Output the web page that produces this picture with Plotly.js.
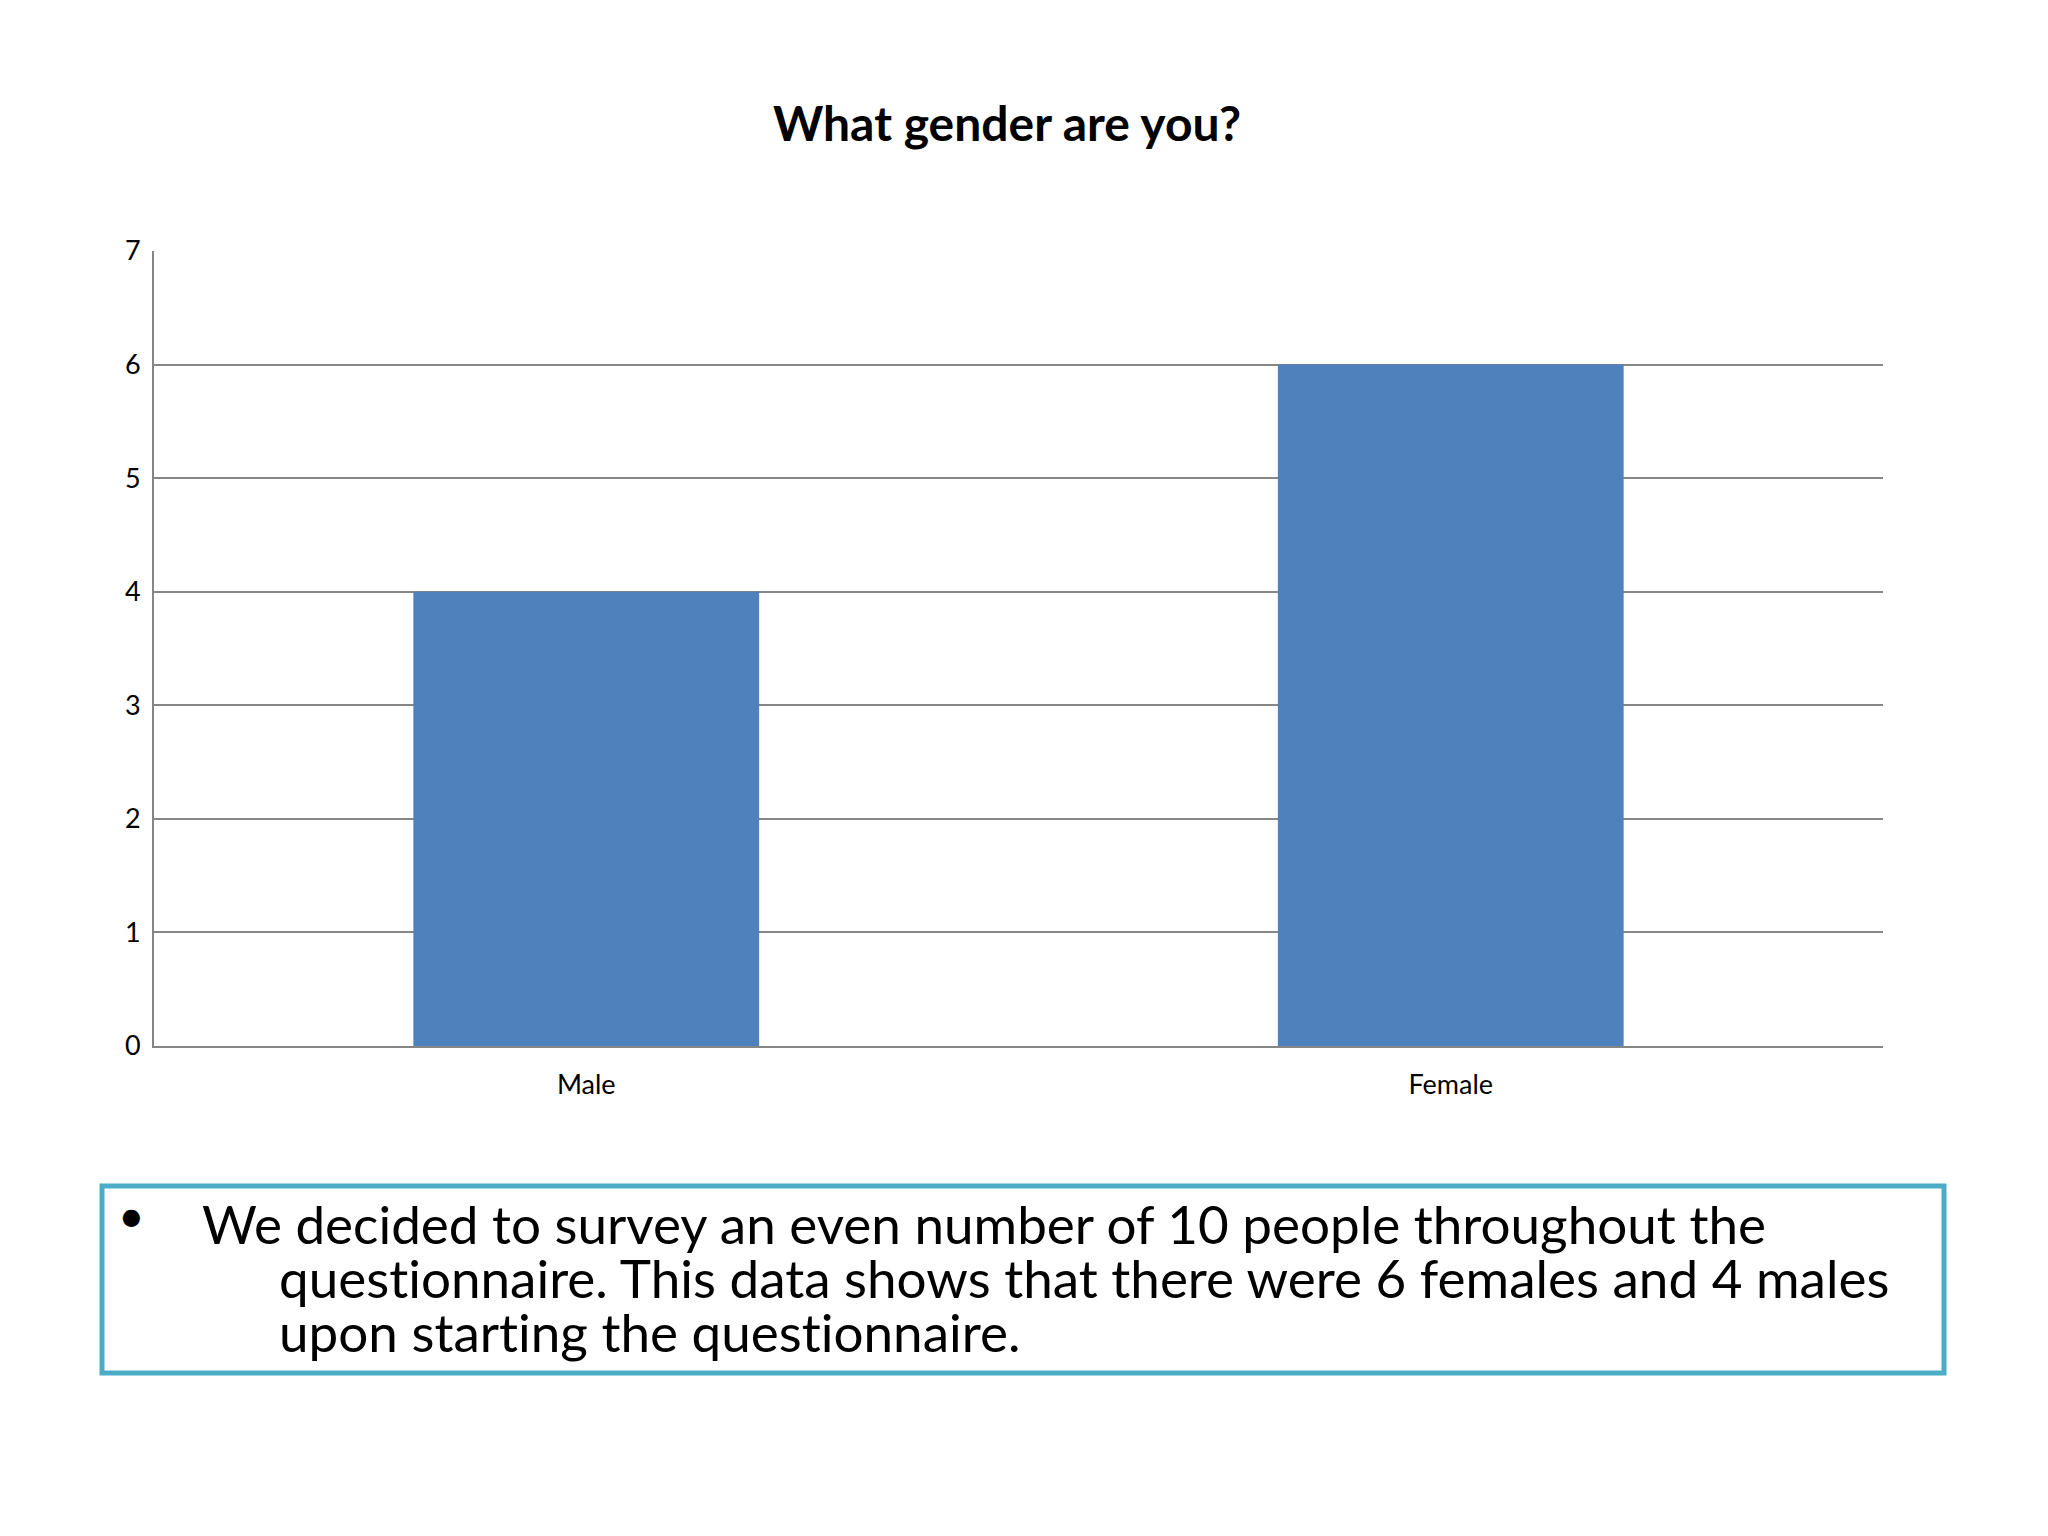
<!DOCTYPE html>
<html>
<head>
<meta charset="utf-8">
<script src="https://cdn.plot.ly/plotly-3.0.1.min.js"></script>
<style>
html,body{margin:0;padding:0;background:#fff;}
#chart{width:2048px;height:1536px;}
text{font-variant-ligatures:none;font-feature-settings:"liga" 0;}
</style>
</head>
<body>
<div id="chart"></div>
<script>
const categories = ["Male", "Female"];
const counts = [4, 6];
const yTicks = [0, 1, 2, 3, 4, 5, 6, 7];
const chartTitle = "What gender are you?";
const noteLines = [
  "We decided to survey an even number of 10 people throughout the",
  "questionnaire. This data shows that there were 6 females and 4 males",
  "upon starting the questionnaire."
];

const W = 2048, H = 1536;
const L = 154, R = 1883, T = 251, B = 1046;
const pw = R - L, ph = B - T;
const px = x => (x - L) / pw;
const py = y => (B - y) / ph;
const FONT = "Lato, 'Open Sans', sans-serif";

const annotations = [];
annotations.push({
  xref: 'paper', yref: 'paper', x: px(131), y: py(1214),
  text: '•', showarrow: false, xanchor: 'center', yanchor: 'middle',
  font: {family: FONT, size: 46, color: '#000'}
});
const lineX = [200, 277, 277];
const lineY = [1223, 1277, 1331];
noteLines.forEach((t, i) => {
  annotations.push({
    xref: 'paper', yref: 'paper', x: px(lineX[i]), y: py(lineY[i]),
    text: t, showarrow: false, xanchor: 'left', yanchor: 'middle',
    font: {family: FONT, size: 53, color: '#000'}
  });
});

const data = [{
  type: 'bar',
  x: categories,
  y: counts,
  marker: {color: '#4F81BD', line: {width: 0}},
  hoverinfo: 'x+y'
}];

const layout = {
  width: W, height: H,
  margin: {l: L, r: W - R, t: T, b: H - B, pad: 0},
  paper_bgcolor: '#ffffff',
  plot_bgcolor: '#ffffff',
  showlegend: false,
  bargap: 0.6,
  font: {family: FONT, color: '#000'},
  title: {
    text: '<b>' + chartTitle + '</b>',
    x: px(1007), xref: 'paper', xanchor: 'center',
    y: 1 - 124 / H, yref: 'container', yanchor: 'middle',
    font: {family: FONT, size: 48, color: '#000'}
  },
  xaxis: {
    type: 'category',
    showgrid: false,
    zeroline: false,
    showline: true, linecolor: '#868686', linewidth: 2,
    ticks: '', ticklabelstandoff: 14,
    tickfont: {family: FONT, size: 27, color: '#000'}
  },
  yaxis: {
    range: [0, 7],
    tickvals: yTicks,
    ticktext: yTicks.map(String),
    showgrid: true, gridcolor: '#868686', gridwidth: 2,
    zeroline: false,
    showline: true, linecolor: '#868686', linewidth: 2,
    ticks: '', ticklabelstandoff: 6,
    tickfont: {family: FONT, size: 27, color: '#000'}
  },
  shapes: [{
    type: 'rect', xref: 'paper', yref: 'paper',
    x0: px(102), x1: px(1944), y0: py(1373), y1: py(1186),
    line: {color: '#4BACC6', width: 5},
    fillcolor: 'rgba(0,0,0,0)'
  }],
  annotations: annotations
};

Plotly.newPlot('chart', data, layout, {displayModeBar: false, staticPlot: true});
</script>
</body>
</html>
